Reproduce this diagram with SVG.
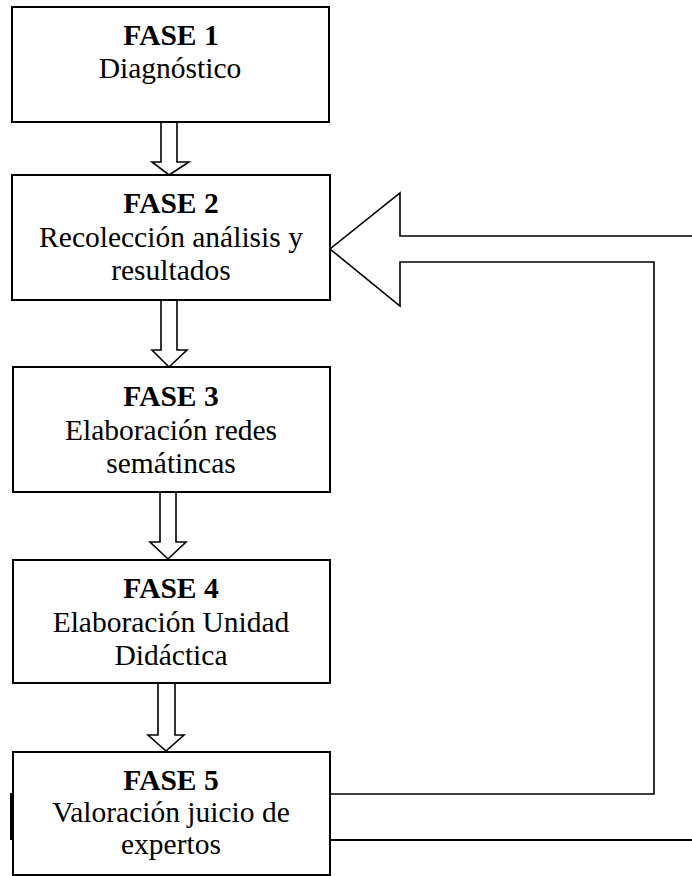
<svg xmlns="http://www.w3.org/2000/svg" width="692" height="876" viewBox="0 0 692 876">
<style>
.box{fill:#fff;stroke:#000;stroke-width:2}
.arr{fill:#fff;stroke:#000;stroke-width:1.6;stroke-linejoin:miter}
.ln{fill:none;stroke:#000;stroke-width:2}
text{font-family:"Liberation Serif","Times New Roman",serif;font-size:29.5px;fill:#000;text-anchor:middle}
.b{font-weight:bold}
</style>
<rect width="692" height="876" fill="#fff"/>
<g id="connectors">
  <polygon class="arr" points="161,122 177,122 177,162 189,162 169,175 152,162 161,162"/>
  <polygon class="arr" points="161,300 177,300 177,350 187,350 169,367 152,350 161,350"/>
  <polygon class="arr" points="160,492 176,492 176,542 186,542 168,559 150,542 160,542"/>
  <polygon class="arr" points="158,683 175,683 175,735 184,735 166,751 148,735 158,735"/>
  <path class="arr" d="M692,236 L400,236 L400,193 L330,249 L400,306 L400,262 L654,262 L654,794 L330,794" fill="none"/>
  <line class="ln" x1="330" y1="840" x2="692" y2="840"/>
</g>
<g id="fase1">
  <rect class="box" x="12" y="7" width="317" height="115"/>
  <text class="b" x="171" y="45">FASE 1</text>
  <text x="170" y="78">Diagnóstico</text>
</g>
<g id="fase2">
  <rect class="box" x="12" y="175" width="318" height="125"/>
  <text class="b" x="171" y="213">FASE 2</text>
  <text x="171" y="247">Recolección análisis y</text>
  <text x="171" y="280">resultados</text>
</g>
<g id="fase3">
  <rect class="box" x="13" y="367" width="317" height="125"/>
  <text class="b" x="171" y="406">FASE 3</text>
  <text x="171" y="440">Elaboración redes</text>
  <text x="171" y="473">semátincas</text>
</g>
<g id="fase4">
  <rect class="box" x="13" y="560" width="317" height="123"/>
  <text class="b" x="171" y="598">FASE 4</text>
  <text x="171" y="632">Elaboración Unidad</text>
  <text x="171" y="665">Didáctica</text>
</g>
<g id="fase5">
  <rect class="box" x="13" y="752" width="317" height="123"/>
  <line x1="11.5" y1="793" x2="11.5" y2="840" stroke="#000" stroke-width="3"/>
  <text class="b" x="171" y="790">FASE 5</text>
  <text x="171" y="822">Valoración juicio de</text>
  <text x="171" y="854">expertos</text>
</g>
</svg>
